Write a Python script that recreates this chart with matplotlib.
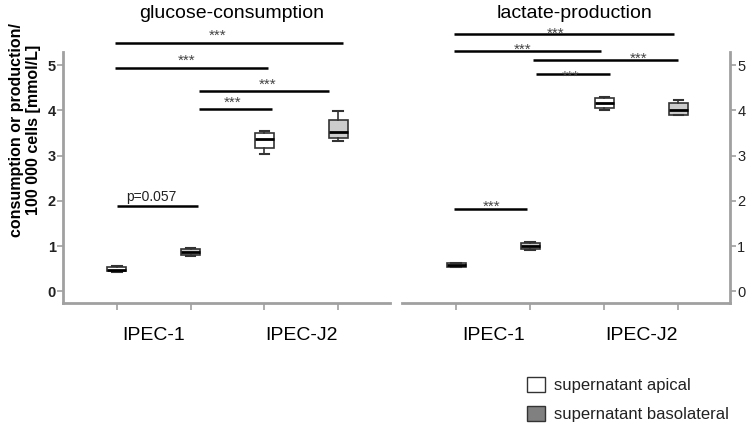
import matplotlib
matplotlib.use("Agg")
from matplotlib import pyplot as plt
from matplotlib.patches import Patch

plt.rcParams['font.family'] = ['Liberation Sans', 'DejaVu Sans']

groups = ["IPEC-1", "IPEC-J2"]
legend_labels = ["supernatant apical", "supernatant basolateral"]

# box order: IPEC-1 apical, IPEC-1 basolateral, IPEC-J2 apical, IPEC-J2 basolateral
glc_wlo = [0.42, 0.77, 3.03, 3.32]
glc_q1 = [0.44, 0.80, 3.16, 3.39]
glc_med = [0.48, 0.86, 3.36, 3.52]
glc_q3 = [0.54, 0.93, 3.49, 3.78]
glc_whi = [0.56, 0.96, 3.54, 3.98]

lac_wlo = [0.53, 0.92, 4.02, 3.89]
lac_q1 = [0.54, 0.93, 4.06, 3.90]
lac_med = [0.57, 1.00, 4.16, 4.00]
lac_q3 = [0.62, 1.06, 4.28, 4.16]
lac_whi = [0.63, 1.09, 4.30, 4.24]

# significance bars: (from, to, height, label) and where the label sits
glc_sig = [(-0.03, 3.07, 5.50, "***"), (-0.03, 2.05, 4.94, "***"),
           (1.11, 2.88, 4.43, "***"), (1.11, 2.10, 4.04, "***"),
           (0.0, 1.10, 1.89, "p=0.057")]
glc_sig_text = [(1.37, 5.57), (0.95, 5.00), (2.05, 4.47), (1.57, 4.09), (0.47, 1.92)]
lac_sig = [(-0.03, 2.94, 5.68, "***"), (-0.03, 1.95, 5.31, "***"),
           (1.03, 3.00, 5.12, "***"), (1.08, 2.07, 4.80, "***"),
           (-0.03, 0.96, 1.82, "***")]
lac_sig_text = [(1.34, 5.60), (0.90, 5.26), (2.46, 5.06), (1.55, 4.65), (0.48, 1.78)]

box_colors = ["white", "#cccccc", "white", "#cccccc"]
spine_col = "#a0a0a0"

fig = plt.figure(figsize=(7.46, 4.26), dpi=100)
ax1 = fig.add_axes([0.0845, 0.2887, 0.438, 0.589])
ax2 = fig.add_axes([0.539, 0.2887, 0.440, 0.589])


def draw_panel(ax, wlo, q1, med, q3, whi, sig, sig_text, side):
    stats = []
    for i in range(len(med)):
        stats.append(dict(whislo=wlo[i], q1=q1[i], med=med[i], q3=q3[i],
                          whishi=whi[i], fliers=[]))
    bp = ax.bxp(stats, positions=range(len(med)), widths=0.26, patch_artist=True,
                showfliers=False,
                boxprops=dict(edgecolor="#333333", linewidth=1.2),
                medianprops=dict(color="black", linewidth=2),
                whiskerprops=dict(color="#333333", linewidth=1.2),
                capprops=dict(color="#333333", linewidth=1.5), capwidths=0.13)
    for patch, c in zip(bp['boxes'], box_colors):
        patch.set_facecolor(c)

    for (x0, x1, y, lab), (tx, ty) in zip(sig, sig_text):
        ax.plot([x0, x1], [y, y], color="black", lw=1.8, clip_on=False,
                solid_capstyle='butt')
        if lab == "***":
            ax.text(tx, ty, lab, ha="center", va="baseline", fontsize=11,
                    color="#444444")
        else:
            ax.text(tx, ty, lab, ha="center", va="bottom", fontsize=10,
                    color="#222222")

    ax.set_xlim(-0.73, 3.7)
    ax.set_ylim(-0.26, 5.29)
    ax.set_yticks(range(6))
    ax.set_xticks(range(4))
    ax.set_xticklabels([])
    ax.set_xticks([0.5, 2.5], minor=True)
    ax.set_xticklabels(groups, minor=True, fontsize=14)
    ax.tick_params(axis='x', which='minor', length=0, pad=17)
    ax.tick_params(axis='x', which='major', length=5, width=1.2, color=spine_col)
    ax.tick_params(axis='y', length=4, width=1.2, color=spine_col, labelsize=10.5,
                   labelcolor="#222222", pad=1)
    for lbl in ax.get_yticklabels():
        lbl.set_fontweight("bold")
    for s in ["top", "left", "right", "bottom"]:
        ax.spines[s].set_visible(False)
    ax.spines["bottom"].set_visible(True)
    ax.spines[side].set_visible(True)
    for s in ["bottom", side]:
        ax.spines[s].set_color(spine_col)
        ax.spines[s].set_linewidth(2)
    if side == "right":
        ax.yaxis.tick_right()
        ax.yaxis.set_label_position("right")


draw_panel(ax1, glc_wlo, glc_q1, glc_med, glc_q3, glc_whi, glc_sig, glc_sig_text, "left")
draw_panel(ax2, lac_wlo, lac_q1, lac_med, lac_q3, lac_whi, lac_sig, lac_sig_text, "right")

fig.text(232 / 746, 1 - 14 / 426, "glucose-consumption", ha="center", va="center",
         fontsize=14)
fig.text(575 / 746, 1 - 14 / 426, "lactate-production", ha="center", va="center",
         fontsize=14)
fig.text(25 / 746, 1 - 130 / 426, "consumption or production/\n100 000 cells [mmol/L]",
         rotation=90, ha="center", va="center", fontsize=11.5, fontweight="bold",
         linespacing=1.15)

handles = [Patch(facecolor="white", edgecolor="#333333"),
           Patch(facecolor="#808080", edgecolor="#333333")]
fig.legend(handles, legend_labels, loc="upper left",
           bbox_to_anchor=(512 / 746, 1 - 362 / 426), frameon=False,
           fontsize=12, handlelength=1.1, handleheight=1.0,
           handletextpad=0.5, labelspacing=0.75, labelcolor="#222222")

fig.savefig("out.png", dpi=100)
